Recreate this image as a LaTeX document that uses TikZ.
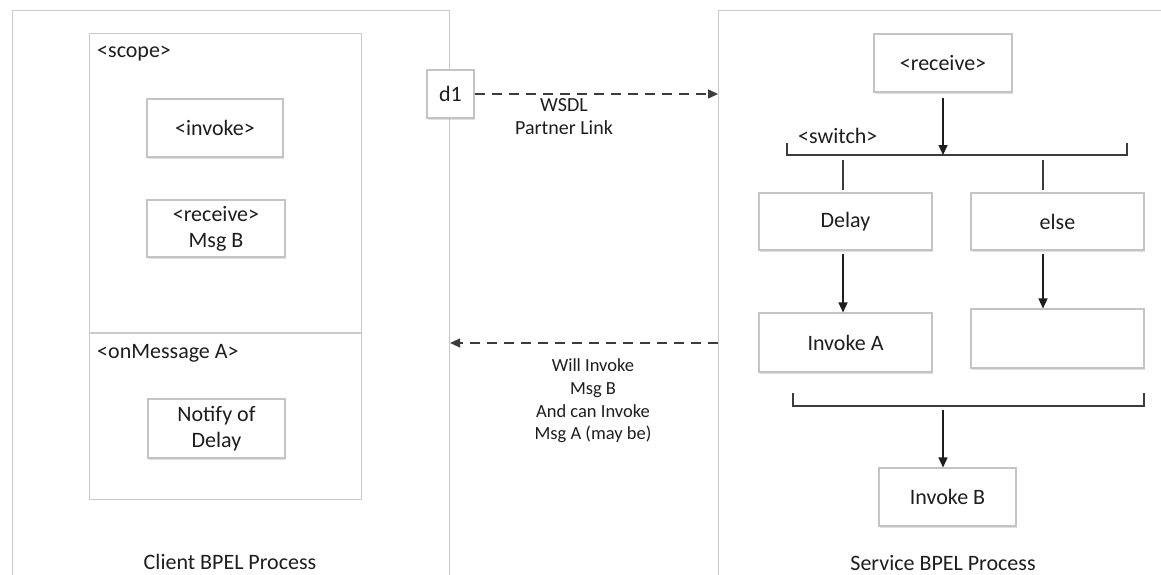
\documentclass[tikz,border=0pt]{standalone}
\usepackage{fontspec}
\setmainfont{Carlito}
\usetikzlibrary{arrows.meta,shadows}
\definecolor{boxline}{HTML}{C4C4C4}
\definecolor{frameline}{HTML}{CACACA}
\definecolor{ink}{HTML}{1E1E1E}
\definecolor{barline}{HTML}{3C3C3C}
\tikzset{
  act/.style={draw=boxline, line width=1.1pt, fill=white, inner sep=0pt,
    align=center, text=ink, font=\fontsize{22}{26}\selectfont,
    drop shadow={shadow xshift=1pt, shadow yshift=-2pt, fill=blue!25!gray, opacity=0.2}},
  frame/.style={draw=frameline, line width=1.1pt, inner sep=0pt},
  lbl/.style={text=ink, inner sep=0pt, font=\fontsize{22}{26}\selectfont},
  note/.style={text=ink, inner sep=0pt, align=center},
  flow/.style={draw=ink, line width=1.4pt, -{Triangle[length=10pt,width=9pt]}},
  msg/.style={draw=barline, line width=1.4pt, dash pattern=on 10pt off 7pt,
    -{Triangle[length=10pt,width=9pt]}},
  bar/.style={draw=barline, line width=1.8pt},
  stub/.style={draw=barline, line width=1.4pt},
}
\begin{document}
\begin{tikzpicture}[x=1pt,y=-1pt]
\clip (0,0) rectangle (1161,575);
\fill[white] (0,0) rectangle (1161,575);

% process frames (open at the page edges)
\node[frame, minimum width=437pt, minimum height=600pt, anchor=north west] (client) at (12,10) {};
\node[frame, minimum width=480pt, minimum height=600pt, anchor=north west] (service) at (718,10) {};

% client side: scope with its message handler
\node[frame, minimum width=272pt, minimum height=466pt, anchor=north west] (scope) at (89,33) {};
\draw[draw=frameline, line width=1.1pt] (scope.west |- 0,333) coordinate (divL) -- (divL -| scope.east);
\node[lbl, anchor=west] (scopetag) at (97,54) {<scope>};
\node[lbl, anchor=west] (ontag) at (97,353) {<onMessage A>};

\node[act, minimum width=136pt, minimum height=58pt] (cinvoke) at (215,128) {<invoke>};
\node[act, minimum width=138pt, minimum height=57pt] (creceive) at (216,228.5) {<receive>\\Msg B};
\node[act, minimum width=137pt, minimum height=59pt] (notify) at (216.5,428.5) {Notify of\\Delay};

\node[lbl] (clientname) at (230,562) {Client BPEL Process};

% partner link
\node[act, minimum width=47pt, minimum height=48pt] (d1) at (450.5,94) {d1};
\draw[msg] (d1.east) -- (d1.east -| service.west);
\node[note, font=\fontsize{20}{23}\selectfont] (wsdl) at (564,116.5) {WSDL\\Partner Link};

\coordinate (ret) at (718,343);
\draw[msg] (ret) -- (ret -| client.east);
\node[note, font=\fontsize{18.5}{22.7}\selectfont] (retnote) at (593,401) {Will Invoke\\Msg B\\And can Invoke\\Msg A (may be)};

% service side
\node[act, minimum width=138pt, minimum height=58pt] (sreceive) at (943,63) {<receive>};

\coordinate (swL) at (787,155);
\coordinate (swR) at (1127,155);
\draw[bar] (787,143) -- (swL) -- (swR) -- (1127,143);
\node[lbl, anchor=west] (swtag) at (798,136) {<switch>};
\draw[flow, shorten <=5pt] (sreceive.south) -- (sreceive.south |- swL);

\node[act, minimum width=173pt, minimum height=57pt] (delay) at (845.5,221.5) {Delay};
\node[act, minimum width=173pt, minimum height=57pt] (else) at (1057.5,221.5) {else};
\node[act, minimum width=173pt, minimum height=59pt] (invA) at (845.5,342.5) {Invoke A};
\node[act, minimum width=173pt, minimum height=59pt] (empty) at (1057.5,338.5) {};

\coordinate (dk) at (843,0);
\coordinate (ek) at (1043,0);
\draw[stub] (dk |- 0,160) -- (dk |- 0,190);
\draw[stub] (ek |- 0,160) -- (ek |- 0,190);
\draw[flow, shorten <=3pt] (dk |- delay.south) -- (dk |- invA.north);
\draw[flow, shorten <=3pt] (ek |- else.south) -- (ek |- empty.north);

\coordinate (jnL) at (793,406);
\coordinate (jnR) at (1144,406);
\draw[bar] (793,393) -- (jnL) -- (jnR) -- (1144,393);

\node[act, minimum width=137pt, minimum height=58pt] (invB) at (947.5,497) {Invoke B};
\coordinate (jk) at (943,0);
\draw[flow, shorten <=4pt] (jk |- jnL) -- (jk |- invB.north);

\node[lbl] (servicename) at (943,563) {Service BPEL Process};
\end{tikzpicture}
\end{document}
